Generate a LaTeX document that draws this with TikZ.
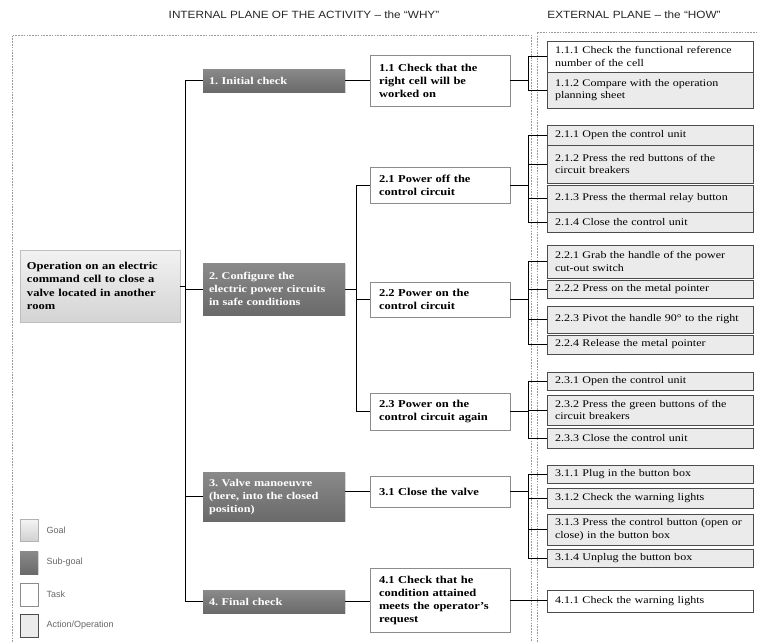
\documentclass[tikz,border=0pt]{standalone}
\usepackage{fontspec}
\setmainfont{Liberation Serif}[FakeStretch=1.18]
\newfontfamily\hdrfont{Liberation Sans}[FakeStretch=1.12]
\newfontfamily\legfont{Liberation Sans}
\usetikzlibrary{shadows}
\definecolor{subtop}{HTML}{8A8A8A}
\definecolor{subbot}{HTML}{6A6A6A}
\definecolor{actfill}{HTML}{EBEBEB}
\frenchspacing
\begin{document}
\begin{tikzpicture}[x=1pt,y=-1pt,
  conn/.style={draw=black, line width=0.9pt},
  framel/.style={draw=black!40, line width=0.6pt, dash pattern=on 1.6pt off 1.2pt},
  shad/.style={drop shadow={shadow xshift=1.2pt, shadow yshift=-1.2pt, fill=black!22}},
  actbox/.style={shad, draw=black!70, line width=0.9pt, fill=actfill, minimum width=206pt, text width=190pt, inner xsep=8pt, inner ysep=0pt, align=left, font=\fontsize{10.2}{12.5}\selectfont},
  taskbox/.style={shad, draw=black!45, line width=0.8pt, fill=white, minimum width=140pt, text width=122pt, inner xsep=9pt, inner ysep=0pt, align=left, font=\bfseries\fontsize{10.6}{13}\selectfont},
  subbox/.style={shad, top color=subtop, bottom color=subbot, text=white, minimum width=142pt, text width=130pt, inner xsep=6pt, inner ysep=0pt, align=left, font=\bfseries\fontsize{10.4}{13}\selectfont},
  goalbox/.style={shad, top color=black!5, bottom color=black!17, draw=black!25, line width=0.6pt, minimum width=160pt, text width=146pt, inner xsep=7pt, inner ysep=0pt, align=left, font=\bfseries\fontsize{10.6}{13.5}\selectfont},
  hdr/.style={font=\hdrfont\fontsize{10.5}{12}\selectfont, text=black!85},
  leg/.style={font=\legfont\fontsize{9}{10}\selectfont, text=black!60, anchor=west}
]
\useasboundingbox (0,0) rectangle (757,642);

% headers
\node[hdr] (h1) at (304,15) {INTERNAL PLANE OF THE ACTIVITY – the “WHY”};
\node[hdr] (h2) at (634,15) {EXTERNAL PLANE – the “HOW”};

% frames
\draw[framel] (12,642) -- (12,35) -- (531,35) -- (531,642);
\draw[framel] (537,642) -- (537,32) -- (757,32);

% goal
\node[goalbox, minimum height=72pt] (goal) at (100,286) {Operation on an electric\\command cell to close a\\valve located in another\\room};

% sub-goals
\node[subbox, minimum height=23pt] (s1) at (274,80.5) {1. Initial check};
\node[subbox, minimum height=52pt] (s2) at (274,289) {2. Configure the\\electric power circuits\\in safe conditions};
\node[subbox, minimum height=49pt] (s3) at (274,496.5) {3. Valve manoeuvre\\(here, into the closed\\position)};
\node[subbox, minimum height=23pt] (s4) at (274,601.5) {4. Final check};

% tasks
\node[taskbox, minimum height=51pt] (t11) at (440,80.5) {1.1 Check that the\\right cell will be\\worked on};
\node[taskbox, minimum height=36pt] (t21) at (440,185) {2.1 Power off the\\control circuit};
\node[taskbox, minimum height=35pt] (t22) at (440,299.5) {2.2 Power on the\\control circuit};
\node[taskbox, minimum height=37pt] (t23) at (440,411.5) {2.3 Power on the\\control circuit again};
\node[taskbox, minimum height=31pt] (t31) at (440,491.5) {3.1 Close the valve};
\node[taskbox, minimum height=64pt] (t41) at (440,600) {4.1 Check that he\\condition attained\\meets the operator’s\\request};

% actions
\node[actbox, fill=white, minimum height=31pt] (a111) at (650,56.5) {1.1.1 Check the functional reference\\number of the cell};
\node[actbox, minimum height=36pt] (a112) at (650,90) {1.1.2 Compare with the operation\\planning sheet};
\node[actbox, minimum height=20pt] (a211) at (650,135) {2.1.1 Open the control unit};
\node[actbox, minimum height=38pt] (a212) at (650,164) {2.1.2 Press the red buttons of the\\circuit breakers};
\node[actbox, minimum height=27pt] (a213) at (650,198.5) {2.1.3 Press the thermal relay button};
\node[actbox, minimum height=20pt] (a214) at (650,222) {2.1.4 Close the control unit};
\node[actbox, minimum height=33pt] (a221) at (650,261.5) {2.2.1 Grab the handle of the power\\cut-out switch};
\node[actbox, minimum height=18pt] (a222) at (650,289) {2.2.2 Press on the metal pointer};
\node[actbox, minimum height=27pt] (a223) at (650,319.5) {2.2.3 Pivot the handle 90° to the right};
\node[actbox, minimum height=19pt] (a224) at (650,344.5) {2.2.4 Release the metal pointer};
\node[actbox, minimum height=18pt] (a231) at (650,381) {2.3.1 Open the control unit};
\node[actbox, minimum height=30pt] (a232) at (650,410) {2.3.2 Press the green buttons of the\\circuit breakers};
\node[actbox, minimum height=20pt] (a233) at (650,438) {2.3.3 Close the control unit};
\node[actbox, minimum height=18pt] (a311) at (650,474) {3.1.1 Plug in the button box};
\node[actbox, minimum height=20pt] (a312) at (650,498) {3.1.2 Check the warning lights};
\node[actbox, minimum height=31pt] (a313) at (650,529.5) {3.1.3 Press the control button (open or\\close) in the button box};
\node[actbox, minimum height=18pt] (a314) at (650,558) {3.1.4 Unplug the button box};
\node[actbox, fill=white, minimum height=22pt] (a411) at (650,601) {4.1.1 Check the warning lights};

% legend
\node[shad, top color=black!4, bottom color=black!18, draw=black!30, minimum width=18pt, minimum height=22pt, inner sep=0pt] (lg1) at (29,530) {};
\node[shad, top color=subtop, bottom color=subbot, minimum width=18pt, minimum height=23pt, inner sep=0pt] (lg2) at (29,562.5) {};
\node[shad, fill=white, draw=black!45, minimum width=18pt, minimum height=23pt, inner sep=0pt] (lg3) at (29,594.5) {};
\node[shad, fill=actfill, draw=black!70, line width=0.8pt, minimum width=18pt, minimum height=23pt, inner sep=0pt] (lg4) at (29,625.5) {};
\node[leg] (lt1) at (43,530) {Goal};
\node[leg] (lt2) at (43,562.5) {Sub-goal};
\node[leg] (lt3) at (43,594.5) {Task};
\node[leg] (lt4) at (43,625.5) {Action/Operation};

% main trunk
\coordinate (tr) at (185,0);
\draw[conn] (goal.east) -- (tr |- goal.east);
\draw[conn] (tr |- s1.west) -- (tr |- s4.west);
\foreach \s in {s1,s2,s3,s4} \draw[conn] (tr |- \s.west) -- (\s.west);

% sub-goal to tasks
\draw[conn] (s1.east) -- (t11.west);
\coordinate (tr2) at (356,0);
\draw[conn] (s2.east) -- (tr2 |- s2.east);
\draw[conn] (tr2 |- t21.west) -- (tr2 |- t23.west);
\foreach \t in {t21,t22,t23} \draw[conn] (tr2 |- \t.west) -- (\t.west);
\draw[conn] (s3.east |- t31.west) -- (t31.west);
\draw[conn] (s4.east) -- (s4.east -| t41.west);

% tasks to actions
\coordinate (xb) at (528,0);
\foreach \t/\first/\last/\list in {t11/a111/a112/{a111,a112}, t21/a211/a214/{a211,a212,a213,a214}, t22/a221/a224/{a221,a222,a223,a224}, t23/a231/a233/{a231,a232,a233}, t31/a311/a314/{a311,a312,a313,a314}} {
  \draw[conn] (\t.east) -- (xb |- \t.east);
  \draw[conn] (xb |- \first.west) -- (xb |- \last.west);
  \foreach \a in \list \draw[conn] (xb |- \a.west) -- (\a.west);
}
\draw[conn] (t41.east) -- (t41.east -| a411.west);
\end{tikzpicture}
\end{document}
